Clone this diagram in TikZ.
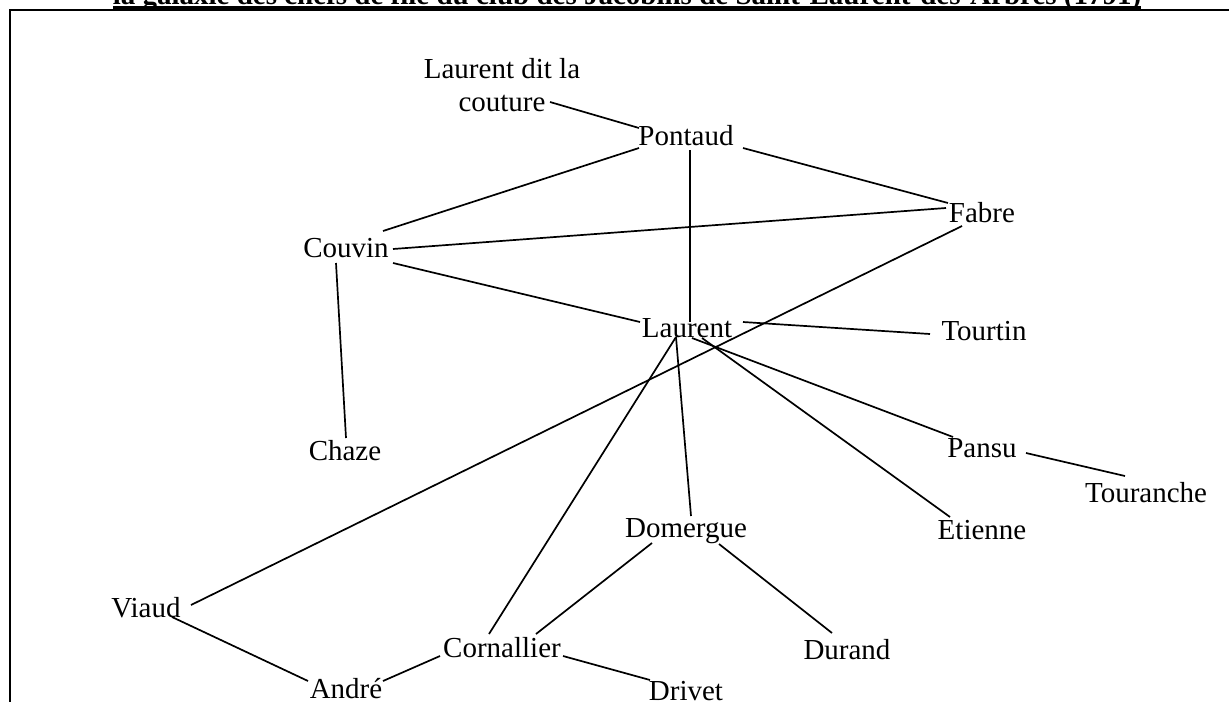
\documentclass[tikz,border=0pt]{standalone}
\usepackage{fontspec}
\setmainfont{Liberation Serif}
\begin{document}
\begin{tikzpicture}[x=1pt,y=1pt,
  lbl/.style={inner sep=0pt, outer sep=0pt, anchor=base, font=\fontsize{29pt}{33pt}\selectfont},
  ttl/.style={inner sep=0pt, outer sep=0pt, anchor=base, font=\fontsize{29pt}{33pt}\selectfont\bfseries},
  edge/.style={line width=1.7pt, black},
  frame/.style={line width=2pt, black}]
\useasboundingbox (0,0) rectangle (1229,-702);
% title and frame
\node[ttl] (title) at (627,-4) {la galaxie des chefs de file du club des Jacobins de Saint-Laurent-des-Arbres (1791)};
\draw[line width=3pt] ([yshift=-3.5pt]title.base west) -- ([yshift=-3.5pt]title.base east);
\coordinate (tl) at (10,-10);
\coordinate (tr) at (1229,-10);
\coordinate (bl) at (10,-702);
\draw[frame] (tr) -- (tl) -- (bl);
% nodes
\node[lbl, align=center] (ldlc) at (502,-111) {Laurent dit la\\couture};
\node[lbl] (pontaud) at (686,-145) {Pontaud};
\node[lbl] (fabre) at (982,-222) {Fabre};
\node[lbl] (couvin) at (346,-257) {Couvin};
\node[lbl] (laurent) at (687,-337) {Laurent};
\node[lbl] (tourtin) at (984,-340) {Tourtin};
\node[lbl] (chaze) at (345,-460) {Chaze};
\node[lbl] (pansu) at (982,-457) {Pansu};
\node[lbl] (touranche) at (1146,-502) {Touranche};
\node[lbl] (domergue) at (686,-537) {Domergue};
\node[lbl] (etienne) at (982,-539) {Etienne};
\node[lbl] (viaud) at (146,-617) {Viaud};
\node[lbl] (cornallier) at (502,-657) {Cornallier};
\node[lbl] (durand) at (847,-659) {Durand};
\node[lbl] (andre) at (346,-698) {André};
\node[lbl] (drivet) at (686,-700) {Drivet};
% edges
\draw[edge] ([shift={(48pt,9pt)}]ldlc.base) -- ([shift={(-47pt,17pt)}]pontaud.base);
\draw[edge] ([shift={(-47pt,-3pt)}]pontaud.base) -- ([shift={(37pt,26pt)}]couvin.base);
\draw[edge] ([shift={(4pt,-5pt)}]pontaud.base) -- ([shift={(3pt,15pt)}]laurent.base);
\draw[edge] ([shift={(57pt,-3pt)}]pontaud.base) -- ([shift={(-34pt,19pt)}]fabre.base);
\draw[edge] ([shift={(47pt,8pt)}]couvin.base) -- ([shift={(-36pt,14pt)}]fabre.base);
\draw[edge] ([shift={(47pt,-6pt)}]couvin.base) -- ([shift={(-47pt,15pt)}]laurent.base);
\draw[edge] ([shift={(-10pt,-6pt)}]couvin.base) -- ([shift={(1pt,22pt)}]chaze.base);
\draw[edge] ([shift={(56pt,15pt)}]laurent.base) -- ([shift={(-54pt,6pt)}]tourtin.base);
\draw[edge] ([shift={(5pt,-1pt)}]laurent.base) -- ([shift={(-29pt,20pt)}]pansu.base);
\draw[edge] ([shift={(15pt,-1pt)}]laurent.base) -- ([shift={(-32pt,22pt)}]etienne.base);
\draw[edge] ([shift={(-11pt,0pt)}]laurent.base) -- ([shift={(5pt,21pt)}]domergue.base);
\draw[edge] ([shift={(-11pt,0pt)}]laurent.base) -- ([shift={(-13pt,23pt)}]cornallier.base);
\draw[edge] ([shift={(-20pt,-4pt)}]fabre.base) -- ([shift={(45pt,12pt)}]viaud.base);
\draw[edge] ([shift={(44pt,4pt)}]pansu.base) -- ([shift={(-21pt,26pt)}]touranche.base);
\draw[edge] ([shift={(-34pt,-6pt)}]domergue.base) -- ([shift={(34pt,23pt)}]cornallier.base);
\draw[edge] ([shift={(33pt,-7pt)}]domergue.base) -- ([shift={(-15pt,26pt)}]durand.base);
\draw[edge] ([shift={(26pt,0pt)}]viaud.base) -- ([shift={(-38pt,17pt)}]andre.base);
\draw[edge] ([shift={(37pt,17pt)}]andre.base) -- ([shift={(-62pt,1pt)}]cornallier.base);
\draw[edge] ([shift={(61pt,1pt)}]cornallier.base) -- ([shift={(-36pt,20pt)}]drivet.base);
\end{tikzpicture}
\end{document}
